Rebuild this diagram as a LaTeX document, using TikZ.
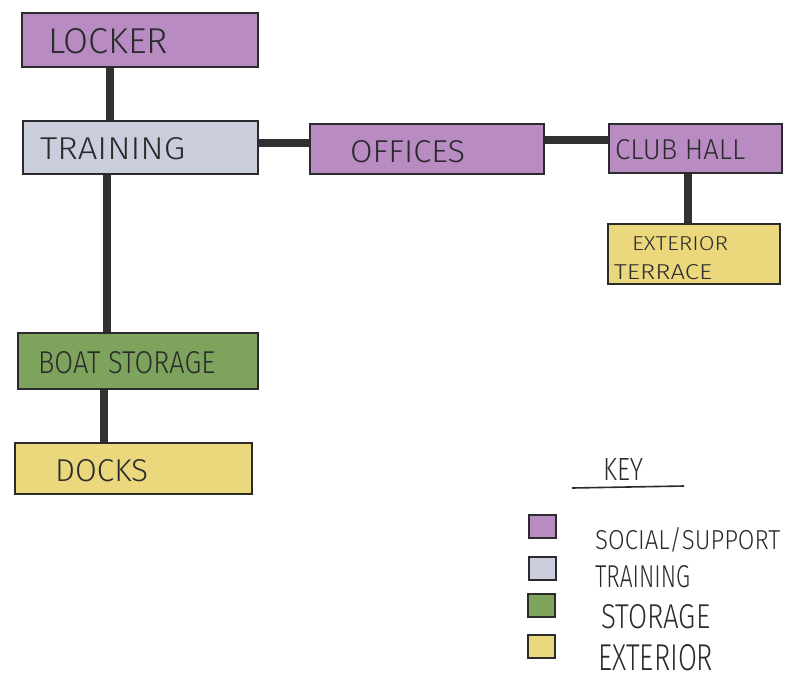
\documentclass[tikz,border=0pt]{standalone}
\usepackage{fontspec}
\setmainfont{Fira Sans Light}
\usetikzlibrary{backgrounds}
\definecolor{social}{HTML}{B88BC2}
\definecolor{trainc}{HTML}{C9CDDC}
\definecolor{storc}{HTML}{7DA35D}
\definecolor{extc}{HTML}{ECD87C}
\definecolor{ink}{HTML}{2B2A2C}
\definecolor{linec}{HTML}{333033}
\newcommand{\hw}[3]{\resizebox{#1pt}{#2pt}{#3}}
\tikzset{
  room/.style={draw=ink, line width=2.4pt, inner sep=0pt, anchor=north west},
  lbl/.style={anchor=base west, inner sep=0pt, text=ink},
  conn/.style={draw=linec, line width=8pt},
  swatch/.style={draw=ink, line width=2.2pt, inner sep=0pt, anchor=north west, minimum width=27pt, minimum height=23pt},
}
\begin{document}
\begin{tikzpicture}[x=1pt,y=-1pt]
\useasboundingbox (0,0) rectangle (788,681);
% boxes
\node[room, fill=social, minimum width=236pt, minimum height=54pt] (locker) at (21,12) {};
\node[room, fill=trainc, minimum width=235pt, minimum height=53pt] (training) at (22,120) {};
\node[room, fill=social, minimum width=234pt, minimum height=50pt] (offices) at (309,123) {};
\node[room, fill=social, minimum width=173pt, minimum height=49pt] (club) at (608,123) {};
\node[room, fill=extc, minimum width=172pt, minimum height=60pt] (terrace) at (607,223) {};
\node[room, fill=storc, minimum width=240pt, minimum height=56pt] (boat) at (17,332) {};
\node[room, fill=extc, minimum width=237pt, minimum height=51pt] (docks) at (14,442) {};
% connector guides
\coordinate (gx1) at (110,0);
\coordinate (gx2) at (107,0);
\coordinate (gx3) at (104,0);
\coordinate (gx4) at (688,0);
\coordinate (gy1) at (0,143);
\coordinate (gy2) at (0,140);
\begin{scope}[on background layer]
\draw[conn] (locker.south -| gx1) -- (training.north -| gx1);
\draw[conn] (training.south -| gx2) -- (boat.north -| gx2);
\draw[conn] (boat.south -| gx3) -- (docks.north -| gx3);
\draw[conn] (training.east |- gy1) -- (offices.west |- gy1);
\draw[conn] (offices.east |- gy2) -- (club.west |- gy2);
\draw[conn] (club.south -| gx4) -- (terrace.north -| gx4);
\end{scope}
% labels
\node[lbl] (tlocker) at (48,53) {\hw{120}{25}{LOCKER}};
\node[lbl] (ttrain) at (40,159) {\hw{145}{22}{TRAINING}};
\node[lbl] (toff) at (350,162) {\hw{115}{22}{OFFICES}};
\node[lbl] (tclub) at (615,159) {\hw{130}{20}{CLUB HALL}};
\node[lbl] (text1) at (632,250) {\hw{96}{14}{EXTERIOR}};
\node[lbl] (text2) at (614,279) {\hw{98}{15}{TERRACE}};
\node[lbl] (tboat) at (38,373) {\hw{177}{22}{BOAT STORAGE}};
\node[lbl] (tdocks) at (55,481) {\hw{93}{22}{DOCKS}};
% key
\node[lbl] (tkey) at (603,480) {\hw{40}{22}{KEY}};
\coordinate (ul1) at (572,488);
\coordinate (ul2) at (684,486);
\draw[draw=ink, line width=1.6pt] (ul1) -- (ul2);
\node[swatch, fill=social] (k1) at (528,514) {};
\node[swatch, fill=trainc] (k2) at (528,556) {};
\node[swatch, fill=storc] (k3) at (527,593) {};
\node[swatch, fill=extc] (k4) at (527,634) {};
\node[lbl] (tk1) at (595,549) {\hw{185}{22}{SOCIAL/SUPPORT}};
\node[lbl] (tk2) at (595,587) {\hw{95}{22}{TRAINING}};
\node[lbl] (tk3) at (601,628) {\hw{109}{24}{STORAGE}};
\node[lbl] (tk4) at (598,670) {\hw{115}{26}{EXTERIOR}};
\end{tikzpicture}
\end{document}
